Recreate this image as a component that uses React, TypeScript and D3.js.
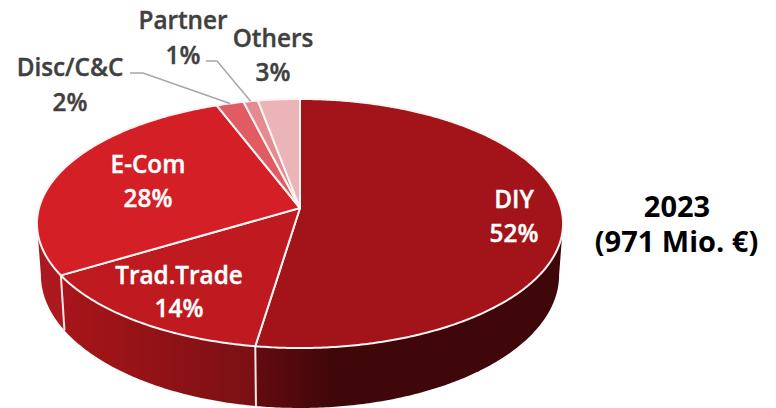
import React from "react";
import * as d3 from "d3";

const categories = ["DIY", "Trad.Trade", "E-Com", "Disc/C&C", "Partner", "Others"];
const shares = [52.4, 14, 27.8, 1.9, 1, 2.9];
const shareLabels = ["52%", "14%", "28%", "2%", "1%", "3%"];
const topColors = ["#a21419", "#be1a20", "#d51f26", "#e05c62", "#e58b8f", "#ebb5b7"];
const sideStops: Record<string, [string, string]> = {
  "DIY": ["#3f0709", "#640b0f"],
  "Trad.Trade": ["#7a1014", "#a81519"],
  "E-Com": ["#ad181d", "#a81b20"],
};
const titleLines = ["2023", "(971 Mio. €)"];

const W = 776, H = 408;
const CX = 300, APEX_Y = 208;
const K = 0.1245, A = 261, B = 122.6;
const BOTTOM_X = 0.985, BOTTOM_Y = 1.068, DEPTH = 50.4;
const FONT = "'Open Sans', sans-serif";

// Projective view of the pie disc: angle is clockwise from 12 o'clock.
const topPoint = (t: number): [number, number] => {
  const u = Math.sin(t), v = -Math.cos(t), w = 1 - K * v;
  return [CX + (A * u) / w, APEX_Y + (B * v) / w];
};
const bottomPoint = (t: number): [number, number] => {
  const u = Math.sin(t), v = -Math.cos(t), w = 1 - K * v;
  return [CX + (BOTTOM_X * A * u) / w, APEX_Y + DEPTH + (BOTTOM_Y * B * v) / w];
};
const samples = (a: number, b: number) => {
  const n = Math.max(2, Math.ceil(Math.abs(b - a) / 0.01));
  return d3.range(n + 1).map((i) => a + ((b - a) * i) / n);
};
const line = d3.line<[number, number]>();

const arcs = d3.pie<number>().sort(null).value((d) => d)(shares);
const SIDE_START = Math.acos(-K);
const SIDE_END = 2 * Math.PI - SIDE_START;

type Lab = { i: number; x: number; y1: number; y2: number; fill: string };
const labels: Lab[] = [
  { i: 0, x: 514, y1: 198, y2: 232, fill: "#fff" },
  { i: 1, x: 179, y1: 274, y2: 307, fill: "#fff" },
  { i: 2, x: 148, y1: 163, y2: 197, fill: "#fff" },
  { i: 3, x: 70, y1: 66, y2: 101, fill: "#404040" },
  { i: 4, x: 183, y1: 19, y2: 54, fill: "#404040" },
  { i: 5, x: 273, y1: 37, y2: 71, fill: "#404040" },
];

export default function App() {
  const walls = arcs
    .map((a, i) => ({
      i,
      s: Math.max(a.startAngle, SIDE_START),
      e: Math.min(a.endAngle, SIDE_END),
    }))
    .filter((d) => d.e > d.s && sideStops[categories[d.i]]);

  return (
    <svg
      width={W}
      height={H}
      viewBox={`0 0 ${W} ${H}`}
      style={{ position: "absolute", left: 0, top: 0, background: "#fff" }}
    >
      <defs>
        {walls.map((d) => {
          const [c0, c1] = sideStops[categories[d.i]];
          const x0 = topPoint(d.s)[0];
          const x1 = topPoint(d.e)[0];
          return (
            <linearGradient
              key={d.i}
              id={`wall${d.i}`}
              gradientUnits="userSpaceOnUse"
              x1={Math.max(x0, x1)}
              x2={Math.min(x0, x1)}
              y1={0}
              y2={0}
            >
              <stop offset="0" stopColor={c0} />
              <stop offset={d.i === 0 ? "0.75" : "0"} stopColor={c0} />
              <stop offset="1" stopColor={c1} />
            </linearGradient>
          );
        })}
      </defs>

      {walls.map((d) => {
        const pts = [
          ...samples(d.s, d.e).map(topPoint),
          ...samples(d.e, d.s).map(bottomPoint),
        ];
        return <path key={d.i} d={line(pts)! + "Z"} fill={`url(#wall${d.i})`} />;
      })}

      {walls.slice(1).map((d) => (
        <path
          key={d.i}
          d={line([topPoint(d.s), bottomPoint(d.s)])!}
          stroke="#f7e9e9"
          strokeWidth={2}
          fill="none"
        />
      ))}

      {arcs.map((a, i) => (
        <path
          key={i}
          d={line([[CX, APEX_Y], ...samples(a.startAngle, a.endAngle).map(topPoint)])! + "Z"}
          fill={topColors[i]}
          stroke="#fdf4f4"
          strokeWidth={2}
          strokeLinejoin="round"
        />
      ))}

      <path
        d={line([[130, 73], [143, 73], topPoint((arcs[3].startAngle + arcs[3].endAngle) / 2)])!}
        fill="none"
        stroke="#a6a6a6"
        strokeWidth={1.5}
      />
      <path
        d={line([[206, 61], [217, 61], topPoint((arcs[4].startAngle + arcs[4].endAngle) / 2)])!}
        fill="none"
        stroke="#a6a6a6"
        strokeWidth={1.5}
      />

      {labels.map((l) => (
        <g
          key={l.i}
          fontFamily={FONT}
          fontWeight={600}
          fontSize={24.3}
          fill={l.fill}
          stroke={l.fill}
          strokeWidth={0.4}
          textAnchor="middle"
          dominantBaseline="central"
        >
          <text x={l.x} y={l.y1}>{categories[l.i]}</text>
          <text x={l.x} y={l.y2}>{shareLabels[l.i]}</text>
        </g>
      ))}

      <text fontFamily={FONT} fontWeight={700} fontSize={29} fill="#000" textAnchor="middle" dominantBaseline="central">
        <tspan x={677} y={205}>{titleLines[0]}</tspan>
        <tspan x={676.5} y={240}>{titleLines[1]}</tspan>
      </text>
    </svg>
  );
}
